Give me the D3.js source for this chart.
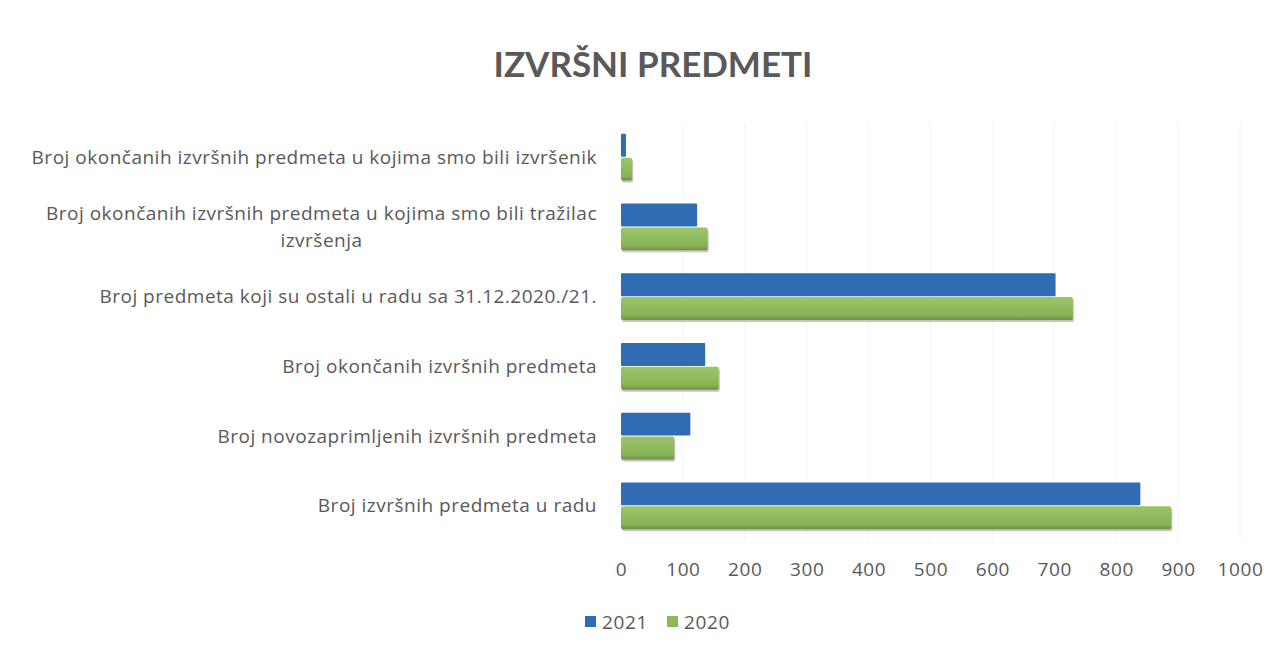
<!DOCTYPE html>
<html>
<head>
<meta charset="utf-8">
<script src="https://cdn.jsdelivr.net/npm/d3@7"></script>
<style>
  body { margin: 0; background: #fff; }
  text { font-family: "Open Sans", sans-serif; fill: #595959; }
</style>
</head>
<body>
<div id="chart"></div>
<script>
const width = 1284;
const height = 651;

const categories = [
  ["Broj okončanih izvršnih predmeta u kojima smo bili izvršenik"],
  ["Broj okončanih izvršnih predmeta u kojima smo bili tražilac", "izvršenja"],
  ["Broj predmeta koji su ostali u radu sa 31.12.2020./21."],
  ["Broj okončanih izvršnih predmeta"],
  ["Broj novozaprimljenih izvršnih predmeta"],
  ["Broj izvršnih predmeta u radu"]
];
const seriesNames = ["2021", "2020"];
const values2021 = [8, 123, 702, 136, 112, 839];
const values2020 = [18, 140, 730, 158, 86, 889];
const ticks = [0, 100, 200, 300, 400, 500, 600, 700, 800, 900, 1000];
const colors = ["#2f6cb3", "#8cb85a"];

const svg = d3.select("#chart").append("svg")
  .attr("width", width)
  .attr("height", height);

const defs = svg.append("defs");
const grad = defs.append("linearGradient").attr("id", "greenGrad")
  .attr("x1", 0).attr("y1", 0).attr("x2", 0).attr("y2", 1);
grad.append("stop").attr("offset", "0%").attr("stop-color", "#9cc56b");
grad.append("stop").attr("offset", "80%").attr("stop-color", "#88b454");
grad.append("stop").attr("offset", "100%").attr("stop-color", "#6f8f4a");

const x = d3.scaleLinear().domain([0, 1000]).range([621, 1240]);
const y = d3.scaleBand().domain(d3.range(categories.length)).range([122, 541]).paddingInner(0.33).paddingOuter(0.17);
const sub = d3.scaleBand().domain(seriesNames).range([0, y.bandwidth()]).paddingInner(0.04);

// title
svg.append("text")
  .attr("x", 653).attr("y", 77)
  .attr("text-anchor", "middle")
  .style("font-family", "Lato, sans-serif")
  .style("font-size", "35px").style("font-weight", "bold")
  .text("IZVRŠNI PREDMETI");

// gridlines
svg.append("g").selectAll("line")
  .data(ticks.slice(1))
  .join("line")
  .attr("x1", d => x(d)).attr("x2", d => x(d))
  .attr("y1", 122).attr("y2", 541)
  .attr("stroke", "#f4f4f4").attr("stroke-width", 1);

// x axis
const xAxis = svg.append("g")
  .attr("transform", "translate(0,541)")
  .call(d3.axisBottom(x).tickValues(ticks).tickFormat(d3.format("d")).tickSize(0).tickPadding(22));
xAxis.select(".domain").remove();
xAxis.selectAll("text")
  .style("font-size", "19px").style("letter-spacing", "0.6px")
  .style("font-family", "'Open Sans', sans-serif").attr("fill", "#595959");

// y labels
const labels = svg.append("g").selectAll("text")
  .data(categories)
  .join("text")
  .attr("text-anchor", "end")
  .style("font-size", "19px")
  .style("letter-spacing", "0.5px")
  .attr("transform", (d, i) => `translate(0,${y(i) + y.bandwidth() / 2})`);
labels.each(function(lines) {
  const t = d3.select(this);
  const n = lines.length;
  const spans = lines.map((line, j) => t.append("tspan")
    .attr("x", 597)
    .attr("dy", j === 0 ? `${0.35 - (n - 1) * 0.7}em` : "1.4em")
    .text(line));
  if (n > 1) {
    const w = spans[0].node().getComputedTextLength();
    spans.slice(1).forEach(s => s.attr("text-anchor", "middle").attr("x", 597 - w / 2));
  }
});

// bars
const data = categories.map((c, i) => ({ i, v: [values2021[i], values2020[i]] }));
const groups = svg.append("g").selectAll("g")
  .data(data)
  .join("g")
  .attr("transform", d => `translate(0,${y(d.i)})`);

groups.selectAll("rect.shadow")
  .data(d => [{ s: "2020", v: d.v[1] }])
  .join("rect")
  .attr("class", "shadow")
  .attr("x", x(0) + 1)
  .attr("y", d => sub(d.s) + 2)
  .attr("width", d => x(d.v) - x(0))
  .attr("height", sub.bandwidth())
  .attr("rx", 2)
  .attr("fill", "#8a8a8a")
  .attr("opacity", 0.5);

groups.selectAll("rect.bar")
  .data(d => seriesNames.map((s, k) => ({ s, v: d.v[k] })))
  .join("rect")
  .attr("class", "bar")
  .attr("x", x(0))
  .attr("y", d => sub(d.s))
  .attr("width", d => x(d.v) - x(0))
  .attr("height", sub.bandwidth())
  .attr("rx", d => d.s === "2020" ? 2 : 1)
  .attr("fill", d => d.s === "2020" ? "url(#greenGrad)" : colors[0]);

// legend
const legend = svg.append("g").attr("transform", "translate(585,622)");
const items = legend.selectAll("g")
  .data(seriesNames)
  .join("g")
  .attr("transform", (d, i) => `translate(${i * 82},0)`);
items.append("rect")
  .attr("x", 0).attr("y", -6).attr("width", 11).attr("height", 11)
  .attr("fill", (d, i) => colors[i]);
items.append("text")
  .attr("x", 17).attr("y", 0).attr("dy", "0.35em")
  .style("font-size", "19px").style("letter-spacing", "0.6px")
  .text(d => d);
</script>
</body>
</html>
